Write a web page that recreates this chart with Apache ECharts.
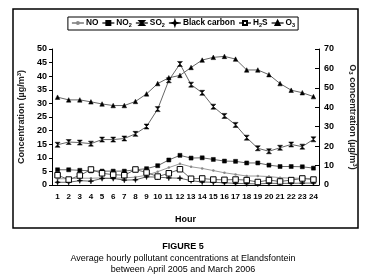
<!DOCTYPE html>
<html>
<head>
<meta charset="utf-8">
<script src="https://cdn.jsdelivr.net/npm/echarts@6/dist/echarts.min.js"></script>
<style>
  html, body { margin: 0; padding: 0; background: #fff; }
  #chart { width: 366px; height: 279px; }
</style>
</head>
<body>
<div id="chart"></div>
<script>
// hour of day
const hours = ['1','2','3','4','5','6','7','8','9','10','11','12','13','14','15','16','17','18','19','20','21','22','23','24'];

// concentrations in ug/m3
const no = [2.3, 2.3, 2.5, 2.5, 2.6, 2.5, 2.6, 2.9, 3.6, 4.9, 6.4, 7.8, 6.7, 6.1, 5.3, 4.5, 3.9, 3.3, 3.3, 3.1, 2.7, 2.5, 2.5, 2.3];
const no2 = [5.6, 5.6, 5.4, 5.2, 5.1, 5.1, 5.1, 5.6, 6.0, 7.1, 9.2, 10.9, 9.9, 10.0, 9.4, 8.8, 8.7, 8.1, 8.1, 7.3, 6.8, 6.8, 6.7, 6.2];
const so2 = [14.8, 15.8, 15.6, 15.2, 16.7, 16.7, 17.1, 18.8, 21.5, 27.9, 38.5, 44.5, 36.9, 33.9, 28.8, 25.4, 22.1, 17.4, 13.5, 12.4, 13.7, 14.9, 14.1, 16.8];
const blackCarbon = [1.0, 1.0, 1.6, 1.4, 2.4, 2.4, 1.8, 1.9, 3.0, 2.9, 2.6, 2.5, 1.6, 1.1, 1.0, 0.8, 0.6, 0.5, 0.4, 0.6, 0.6, 0.6, 0.7, 0.7];
const h2s = [3.6, 2.0, 3.5, 5.7, 4.3, 3.8, 3.6, 5.7, 4.6, 3.1, 4.3, 5.8, 2.3, 2.4, 2.0, 1.9, 2.0, 1.8, 1.1, 1.8, 1.3, 1.8, 2.4, 2.0];
// O3 on the right axis
const o3 = [45.2, 43.8, 43.8, 42.8, 41.7, 40.9, 40.9, 43.0, 46.9, 52.2, 55.2, 56.4, 60.5, 64.3, 65.7, 66.2, 64.8, 59.2, 59.2, 56.8, 52.2, 48.8, 47.5, 45.5];

const leftTicks = { min: 0, max: 50, interval: 5 };
const rightTicks = { min: 0, max: 70, interval: 10 };

const font = 'Liberation Sans, Arial, sans-serif';

const hourglass = 'path://M0,0 L10,0 L0,10 L10,10 Z';
const star4 = 'path://M5,0 L6.2,3.8 L10,5 L6.2,6.2 L5,10 L3.8,6.2 L0,5 L3.8,3.8 Z';

// legend labels with subscripts
const legendLabels = {
  'NO': '{b|NO}',
  'NO2': '{b|NO}{s|2}',
  'SO2': '{b|SO}{s|2}',
  'Black carbon': '{b|Black carbon}',
  'H2S': '{b|H}{s|2}{b|S}',
  'O3': '{b|O}{s|3}'
};

const chart = echarts.init(document.getElementById('chart'));

function lineSeries(name, data, symbol, size, extra) {
  return Object.assign({
    name: name,
    type: 'line',
    data: data,
    symbol: symbol,
    symbolSize: size,
    showSymbol: true,
    lineStyle: { color: '#666', width: 1 },
    itemStyle: { color: '#000', borderColor: '#000', borderWidth: 0.5 },
    emphasis: { disabled: true },
    animation: false,
    z: 3
  }, extra || {});
}

const option = {
  animation: false,
  textStyle: { fontFamily: font },
  title: [
    { text: 'FIGURE 5', left: 'center', top: 237,
      textStyle: { fontSize: 9, fontWeight: 'bold', color: '#000', fontFamily: font } },
    { text: 'Average hourly pollutant concentrations at Elandsfontein\nbetween April 2005 and March 2006',
      left: 'center', top: 248,
      textStyle: { fontSize: 9, fontWeight: 'normal', color: '#000', lineHeight: 11, fontFamily: font } }
  ],
  graphic: [
    { type: 'rect', shape: { x: 13, y: 9, width: 345, height: 219 },
      style: { fill: null, stroke: '#000', lineWidth: 1.5 }, silent: true }
  ],
  legend: {
    top: 17,
    left: 'center',
    itemWidth: 12,
    itemHeight: 5,
    itemGap: 3,
    padding: [2, 3, 2, 3],
    borderColor: '#000',
    borderWidth: 1,
    selectedMode: false,
    formatter: function (name) { return legendLabels[name]; },
    textStyle: {
      padding: [0, 0, 0, -3],
      rich: {
        b: { fontSize: 8.3, fontWeight: 'bold', color: '#000', fontFamily: font },
        s: { fontSize: 5.5, fontWeight: 'bold', color: '#000', fontFamily: font, padding: [4, 0, 0, 0] }
      }
    },
    data: ['NO', 'NO2', 'SO2', 'Black carbon', 'H2S', 'O3']
  },
  grid: { left: 52, right: 43, top: 49, bottom: 94 },
  xAxis: {
    type: 'category',
    data: hours,
    name: 'Hour',
    nameLocation: 'middle',
    nameGap: 30,
    nameTextStyle: { fontSize: 9, fontWeight: 'bold', color: '#000' },
    axisLine: { lineStyle: { color: '#000', width: 1 } },
    axisTick: { length: 3, lineStyle: { color: '#000' } },
    axisLabel: { interval: 0, fontSize: 8, fontWeight: 'bold', color: '#000', margin: 8 }
  },
  yAxis: [
    {
      type: 'value',
      min: leftTicks.min, max: leftTicks.max, interval: leftTicks.interval,
      name: 'Concentration (µg/m{sup|3})',
      nameLocation: 'middle',
      nameRotate: 90,
      nameGap: 22,
      nameTextStyle: {
        fontSize: 9, fontWeight: 'bold', color: '#222',
        rich: { sup: { fontSize: 6, fontWeight: 'bold', color: '#222', padding: [0, 0, 5, 0] } }
      },
      axisLine: { show: true, lineStyle: { color: '#000', width: 1 } },
      axisTick: { show: true, length: 3, lineStyle: { color: '#000' } },
      axisLabel: { fontSize: 9, fontWeight: 'bold', color: '#000', margin: 5 },
      splitLine: { show: false }
    },
    {
      type: 'value',
      position: 'right',
      min: rightTicks.min, max: rightTicks.max, interval: rightTicks.interval,
      name: 'O{sub|3} concentration (µg/m{sup|3})',
      nameLocation: 'middle',
      nameRotate: -90,
      nameGap: 28,
      nameTextStyle: {
        fontSize: 9, fontWeight: 'bold', color: '#222',
        rich: {
          sub: { fontSize: 6, fontWeight: 'bold', color: '#222', padding: [4, 0, 0, 0] },
          sup: { fontSize: 6, fontWeight: 'bold', color: '#222', padding: [0, 0, 5, 0] }
        }
      },
      axisLine: { show: true, lineStyle: { color: '#000', width: 1 } },
      axisTick: { show: true, inside: true, length: 4, lineStyle: { color: '#000' } },
      axisLabel: { fontSize: 9, fontWeight: 'bold', color: '#000', margin: 5 },
      splitLine: { show: false }
    }
  ],
  series: [
    lineSeries('NO', no, 'circle', 2.5, {
      lineStyle: { color: '#999', width: 1 },
      itemStyle: { color: '#888', borderWidth: 0 }
    }),
    lineSeries('NO2', no2, 'rect', 4),
    lineSeries('SO2', so2, hourglass, 5),
    lineSeries('Black carbon', blackCarbon, star4, 5.5),
    lineSeries('H2S', h2s, 'rect', 5.5, {
      itemStyle: { color: '#fff', borderColor: '#000', borderWidth: 1 }
    }),
    lineSeries('O3', o3, 'triangle', 4.5, { yAxisIndex: 1 })
  ]
};

chart.setOption(option);
</script>
</body>
</html>
